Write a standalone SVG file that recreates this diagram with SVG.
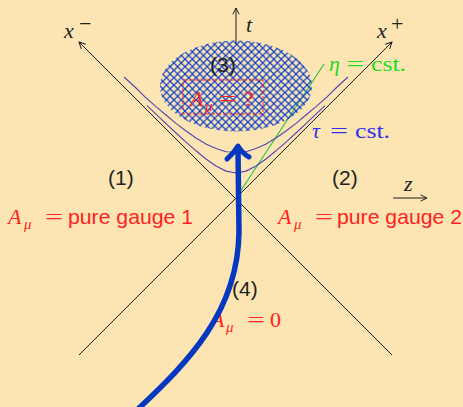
<svg xmlns="http://www.w3.org/2000/svg" width="463" height="407" viewBox="0 0 463 407">
<style>
.m{font-family:"Liberation Serif",serif;font-style:italic;font-size:22px}
.r{font-family:"Liberation Serif",serif;font-size:22px}
.s{font-family:"Liberation Sans",sans-serif;font-size:21px}
.sub{font-family:"Liberation Serif",serif;font-style:italic;font-size:15px}
.red{fill:#ff2222}
.ax{stroke:#1a1a1a;stroke-width:1;fill:none}
.hyp{stroke:#5544b0;stroke-width:1.1;fill:none}
</style>
<defs>
<pattern id="hatch" patternUnits="userSpaceOnUse" width="7.4" height="7.4">
<path d="M0,0 L7.4,7.4 M7.4,0 L0,7.4" stroke="#0b3cc8" stroke-width="1.15"/>
</pattern>
<marker id="ah" viewBox="0 0 10 10" refX="9" refY="5" markerWidth="8" markerHeight="8" orient="auto" markerUnits="userSpaceOnUse">
<path d="M1,1 L9,5 L1,9" fill="none" stroke="#1a1a1a" stroke-width="1.2"/>
</marker>
</defs>
<rect width="463" height="407" fill="#fce5b3"/>

<g id="connectors">
<line class="ax" x1="392" y1="355" x2="79" y2="42" marker-end="url(#ah)"/>
<line class="ax" x1="79" y1="355" x2="392" y2="42" marker-end="url(#ah)"/>
<line class="ax" x1="236" y1="44" x2="236" y2="8" marker-end="url(#ah)"/>
<line class="ax" x1="393" y1="198" x2="427" y2="198" marker-end="url(#ah)"/>
<line x1="236" y1="198" x2="324" y2="64" stroke="#22c040" stroke-width="1.1"/>
<path class="hyp" d="M124,77 L136,88 L146,97.9 L156,106.7 L166,115 L176,123.4 L186,131 L196,138 L206,144 L216,148.6 L226,151.8 L236,152 L246,151.8 L256,148.6 L266,144 L276,138 L286,131 L296,123.4 L306,115 L316,106.7 L326,97.9 L336,88 L348,77"/>
<path class="hyp" d="M147,105.6 L156,114.2 L166,123.7 L176,133 L186,142.1 L196,150.8 L206,159 L216,166 L226,171.1 L236,173 L246,171.1 L256,166 L266,159 L276,150.8 L286,142.1 L296,133 L306,123.7 L316,114.2 L325,105.6"/>
</g>

<g id="region3">
<ellipse cx="236" cy="86" rx="76" ry="45.5" fill="url(#hatch)"/>
<text class="s" x="210" y="72" fill="#222">(3)</text>
<rect x="183" y="80" width="80" height="34" fill="none" stroke="#ff2222" stroke-width="1" stroke-dasharray="4,2"/>
<text class="m red" x="190" y="106">A</text>
<text class="sub red" x="205" y="111">μ</text>
<text class="r red" x="219" y="106" textLength="18" lengthAdjust="spacingAndGlyphs">=</text>
<text class="r red" x="244" y="106">?</text>
</g>

<g id="axis-labels">
<text class="m" x="64" y="38" fill="#222">x</text>
<text class="r" x="79" y="31" fill="#222" font-size="15">−</text>
<text class="m" x="377" y="38" fill="#222">x</text>
<text class="r" x="391" y="31" fill="#222" font-size="15">+</text>
<text class="m" x="246" y="32" fill="#222">t</text>
<text class="m" x="404" y="191" fill="#222">z</text>
</g>

<g id="eta-label">
<text class="m" x="329" y="71" fill="#22dd22">η</text>
<text class="r" x="346" y="71" fill="#22dd22" textLength="18" lengthAdjust="spacingAndGlyphs">=</text>
<text class="r" x="371" y="71" fill="#22dd22" textLength="35" lengthAdjust="spacingAndGlyphs">cst.</text>
</g>
<g id="tau-label">
<text class="m" x="312" y="138" fill="#3030ee">τ</text>
<text class="r" x="330" y="138" fill="#3030ee" textLength="18" lengthAdjust="spacingAndGlyphs">=</text>
<text class="r" x="355" y="138" fill="#3030ee" textLength="35" lengthAdjust="spacingAndGlyphs">cst.</text>
</g>

<g id="region1">
<text class="s" x="108" y="185" fill="#222">(1)</text>
<text class="m red" x="8" y="224">A</text>
<text class="sub red" x="24" y="229">μ</text>
<text class="r red" x="45" y="224" textLength="18" lengthAdjust="spacingAndGlyphs">=</text>
<text class="s red" x="68" y="224" textLength="125" lengthAdjust="spacingAndGlyphs">pure gauge 1</text>
</g>
<g id="region2">
<text class="s" x="332" y="185" fill="#222">(2)</text>
<text class="m red" x="278" y="224">A</text>
<text class="sub red" x="294" y="229">μ</text>
<text class="r red" x="315" y="224" textLength="18" lengthAdjust="spacingAndGlyphs">=</text>
<text class="s red" x="337" y="224" textLength="125" lengthAdjust="spacingAndGlyphs">pure gauge 2</text>
</g>
<g id="region4">
<text class="s" x="232" y="296" fill="#222">(4)</text>
<text class="m red" x="211" y="327">A</text>
<text class="sub red" x="226" y="332">μ</text>
<text class="r red" x="247" y="327" textLength="18" lengthAdjust="spacingAndGlyphs">=</text>
<text class="r red" x="270" y="327">0</text>
</g>

<g id="trajectory">
<path d="M138,409 C188,362 238,312 239,232 L238,150" fill="none" stroke="#0538c0" stroke-width="5.5"/>
<path d="M227,159 Q234,153 238,146 Q242,153 249,157" fill="none" stroke="#0538c0" stroke-width="5" stroke-linecap="round" stroke-linejoin="round"/>
</g>
</svg>
